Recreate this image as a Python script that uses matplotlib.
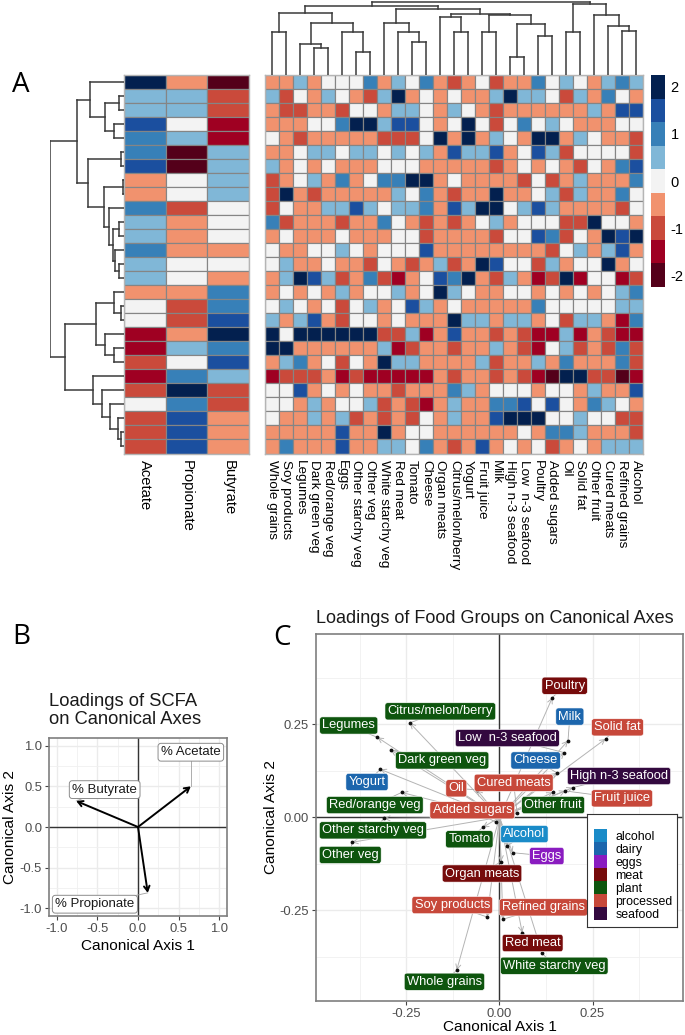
import matplotlib
matplotlib.use("Agg")
import matplotlib.pyplot as plt
from matplotlib.colors import ListedColormap
import numpy as np

plt.rcParams['font.family'] = ['Liberation Sans', 'DejaVu Sans']

W, H = 685, 1035

# heatmap levels: value on the colour bar is level / 2
level_colors = ['#54001a', '#9f0022', '#ca4a3b', '#f1926e', '#f3f3f3',
                '#80b7d7', '#3780b8', '#1b4f9f', '#03204f']
bar_levels = [4, 3, 2, 1, 0, -1, -2, -3, -4]
bar_ticks = [4, 2, 0, -2, -4]
bar_labels = ['2', '1', '0', '-1', '-2']

scfa_names = ['Acetate', 'Propionate', 'Butyrate']
scfa_levels = [
    [4, -1, -4], [1, 1, -2], [1, 1, -2], [3, 0, -3], [2, 1, -3], [2, -4, 1], [3, -4, 1],
    [-1, 0, 1], [-1, 0, 1], [2, -2, 0], [1, -1, 0], [1, -1, 0], [2, -1, -1], [1, 0, 0],
    [1, 0, -1], [-1, -1, 2], [0, -2, 2], [0, -2, 3], [-3, -1, 4], [-3, 1, 2], [-2, 0, 3],
    [-3, 2, 1], [-2, 4, -2], [0, 2, -2], [-2, 3, -1], [-2, 3, -1], [-2, 3, -1],
]

food_names = ['Whole grains', 'Soy products', 'Legumes', 'Dark green veg', 'Red/orange veg',
              'Eggs', 'Other starchy veg', 'Other veg', 'White starchy veg', 'Red meat',
              'Tomato', 'Cheese', 'Organ meats', 'Citrus/melon/berry', 'Yogurt', 'Fruit juice',
              'Milk', 'High n-3 seafood', 'Low  n-3 seafood', 'Poultry', 'Added sugars', 'Oil',
              'Solid fat', 'Other fruit', 'Cured meats', 'Refined grains', 'Alcohol']
food_levels = [
    [-1, -1, 1, -1, 0, 0, 0, 2, -1, 1, 0, 2, -1, -2, -1, 0, -2, -1, -1, 2, 0, 1, 0, -1, 1, 2, 1],
    [1, -2, 0, -1, 1, 0, -1, -2, 1, 4, -1, 0, -1, 0, -1, -1, 1, 4, 1, 1, 0, -2, 1, -1, 2, 0, -1],
    [-1, -2, -2, -1, -1, -2, 0, 0, -1, 1, 1, 0, -1, 1, 0, -1, -2, -1, -1, -1, -1, -1, -1, 1, -1, 3, 3],
    [-1, -1, -1, 0, 0, 2, 4, 4, 1, 3, 3, 0, -1, 0, 4, 0, -2, 0, 2, 0, 1, 0, -1, -1, -1, 0, 0],
    [0, -1, -2, -1, -1, -1, -1, -1, -2, -2, -2, 0, 4, -1, 4, -1, 1, 0, -1, 4, 4, -1, 1, 0, -1, -1, -2],
    [-1, -1, 0, 1, 1, 0, 1, 1, 0, 1, 0, 1, -1, 3, 1, 1, 3, -1, 0, 3, 1, -2, 0, 0, 0, 0, -2],
    [1, -1, 0, -1, 0, -1, -1, -1, 0, 0, 0, -1, -1, -1, -1, -1, -2, -1, 0, -1, 0, -1, -2, 0, -1, 2, 3],
    [-2, -1, 0, 1, -1, 2, -1, 0, 2, 2, 4, 4, -1, 0, -1, -1, -1, -1, -2, 0, -2, -1, 1, -1, -1, -1, 2],
    [-2, 4, -1, -2, -1, -1, -1, -1, -1, 1, 0, 2, -1, -2, -1, -1, 4, -1, -1, 0, 1, -2, 1, -1, -1, 2, 0],
    [-2, 0, -1, -1, 1, 1, 3, 1, 0, 1, 1, 2, -1, 3, 1, 4, 4, 0, 1, 3, 1, -1, -1, -1, -1, -2, 0],
    [2, -2, -1, -1, -1, -2, -1, -1, 2, 0, -1, -2, -1, -2, -1, 0, 1, -1, 0, 0, 0, -2, -2, 4, 0, 0, -1],
    [-1, 0, -1, -1, -1, 0, -1, -1, -1, 0, 0, -2, -1, -1, -1, -1, -2, 0, 0, 3, 2, -2, 0, -1, 4, 3, 4],
    [0, -1, -1, 0, 0, 1, 0, -1, 0, 0, 0, 3, -1, -1, -1, -1, -1, -1, -1, -1, -2, 0, 1, -1, 1, 3, -1],
    [0, 1, -1, -1, 0, -1, -1, -2, 0, -1, -2, -1, 1, -2, -1, 4, 3, 0, 0, -2, 1, -1, 0, 0, 4, -1, 0],
    [-1, 1, 4, 3, 1, -2, -1, 2, -2, -3, -1, 0, 3, 2, 4, -1, -2, 1, -1, -3, -2, 4, -3, 0, 0, -3, -2],
    [-1, 0, -1, 0, -1, 1, -1, 0, 0, 1, -1, 0, 4, 1, 0, -1, -1, 0, 0, -1, 0, -1, 0, -1, 0, 1, 2],
    [0, 1, 0, -1, 0, -2, 0, 1, -1, 0, 3, 1, -1, 0, -1, -1, -1, -1, -1, 2, 0, 0, 0, 0, 0, 1, 1],
    [1, -1, 1, 3, -1, -2, 0, 0, -1, 0, -1, -1, -1, 4, 1, 1, -1, 1, 1, -1, 0, -2, 1, 1, -1, -3, 2],
    [4, 0, 4, 4, 4, 4, 4, 4, -2, -2, 1, -3, -1, 3, -1, -1, -2, -1, -2, -3, -3, 1, -3, -1, -2, -3, -3],
    [4, 4, -1, -1, -1, -1, -1, -1, 1, -3, -2, -1, -1, -2, -1, -1, 1, -1, -2, -3, 0, 1, -2, -1, -2, 2, -2],
    [-1, 1, 2, -1, 0, -2, 0, -1, 4, 1, 1, -1, -1, -1, -1, 1, -2, -1, -1, 1, -1, 2, -1, -1, -1, 2, -2],
    [-3, -2, -2, -2, -1, -3, -2, -3, -3, -3, -3, -3, -1, -2, -1, -1, -2, -1, -2, -3, -4, 4, 4, -2, -2, -4, -3],
    [0, 0, 3, -1, 0, -1, 0, -1, -1, -2, -1, -1, -1, 2, 1, -1, 0, 0, 0, -1, 0, 0, -1, 1, -1, -1, 3],
    [0, 0, -1, 1, -1, 0, 0, 1, -2, -1, -2, -3, -1, 1, -1, -1, 2, 2, 3, 0, 3, 0, -1, 2, 1, 0, -1],
    [0, -1, -1, 1, -1, 1, -2, -1, -2, -1, -2, 0, -1, 1, -1, -1, 3, 4, 4, 4, 0, 0, 1, 0, 0, -2, -2],
    [-1, -1, -1, -1, -1, 3, -1, -1, 4, -1, 0, 0, -1, -1, -1, -1, -1, -1, 0, -1, 2, 2, 1, -1, -1, -1, -2],
    [-1, 2, -1, -1, -1, 3, -1, -1, 1, 1, 0, 2, -1, -2, -1, 3, -1, 0, -1, 0, -2, -1, 0, -1, 1, 1, 1],
]

# dendrograms as (merge height, left, right), an int is a leaf position
row_tree = (73.5,
            (46.5,
             (33.5, 0, (18.5, (4.5, 1, 2), (9.5, 3, 4))),
             (35.5, (2.5, 5, 6),
              (19.5, (1, 7, 8),
               (14.5, 9, (10.5, (4.5, 10, 11), (8.5, 12, (4.5, 13, 14))))))),
            (58.5,
             (27.5,
              (9.5, 15, (2.5, 16, 17)),
              (18.5, 18, (9.5, 19, 20))),
             (30.5, 21,
              (21.5, 22,
               (13.5, 23, (5.5, 24, (2.5, 25, 26)))))))
col_tree = (73,
            (69,
             (62,
              (43, 0, 1),
              (52,
               (31, 2, (27, 3, 4)),
               (43, 5, (23, 6, 7)))),
             (66,
              (52, 8, (43, 9, (33, 10, 11))),
              (61,
               (58, 12, (43, 13, 14)),
               (60,
                (43, 15, 16),
                (51, (18, 17, 18), (39, 19, 20)))))),
            (71,
             (43, 21, 22),
             (60, 23, (49, 24, (44, 25, 26)))))

# panel B
scfa_labels = ['% Acetate', '% Butyrate', '% Propionate']
scfa_x = [0.65, -0.76, 0.12]
scfa_y = [0.50, 0.32, -0.81]
scfa_label_x = [0.65, -0.41, -0.53]
scfa_label_y = [0.92, 0.46, -0.95]

# panel C
group_names = ['alcohol', 'dairy', 'eggs', 'meat', 'plant', 'processed', 'seafood']
group_colors = ['#1a8bc8', '#1c66ad', '#8a1cc0', '#760b0b', '#0e550e', '#c7483a', '#33093f']
loading_names = ['Poultry', 'Milk', 'Solid fat', 'Low  n-3 seafood', 'Cheese', 'Cured meats',
                 'High n-3 seafood', 'Fruit juice', 'Other fruit', 'Citrus/melon/berry', 'Legumes',
                 'Dark green veg', 'Yogurt', 'Oil', 'Red/orange veg', 'Added sugars',
                 'Other starchy veg', 'Tomato', 'Alcohol', 'Other veg', 'Eggs', 'Organ meats',
                 'Soy products', 'Refined grains', 'Red meat', 'White starchy veg', 'Whole grains']
loading_groups = ['meat', 'dairy', 'processed', 'seafood', 'dairy', 'processed',
                  'seafood', 'processed', 'plant', 'plant', 'plant',
                  'plant', 'dairy', 'processed', 'plant', 'processed',
                  'plant', 'plant', 'alcohol', 'plant', 'eggs', 'meat',
                  'processed', 'processed', 'meat', 'plant', 'plant']
loading_x = [.142, .184, .285, .174, .154, .047, .197, .177, .143, -.241, -.328,
             -.292, -.320, -.061, -.263, -.009, -.310, -.045, .021, -.396, .035, .004,
             -.033, .009, .061, .115, -.115]
loading_y = [.322, .206, .211, .174, .120, .012, .080, .071, .067, .254, .215,
             .181, .129, .074, .067, -.013, -.003, -.027, -.077, -.067, -.095, -.119,
             -.268, -.274, -.310, -.366, -.411]
label_x = [.175, .189, .317, .021, .097, .038, .321, .329, .144, -.159, -.405,
           -.154, -.356, -.116, -.335, -.073, -.340, -.081, .067, -.401, .127, -.047,
           -.127, .118, .089, .147, -.148]
label_y = [.354, .271, .242, .213, .153, .093, .111, .051, .033, .285, .247,
           .153, .095, .078, .033, .019, -.035, -.059, -.045, -.101, -.104, -.151,
           -.236, -.242, -.338, -.399, -.442]


def add_axes_px(fig, left, top, right, bottom):
    return fig.add_axes([left / W, 1 - bottom / H, (right - left) / W, (bottom - top) / H])


def tree_segments(node, segs):
    """Walk a merge tree, returns (position, height) of the node"""
    if isinstance(node, int):
        return node + 0.5, 0
    h, a, b = node
    pa, ha = tree_segments(a, segs)
    pb, hb = tree_segments(b, segs)
    for p, c in ((pa, ha), (pb, hb)):
        segs.append(([p, p], [c, h]))
    segs.append(([pa, pb], [h, h]))
    return (pa + pb) / 2, h


def draw_heat(ax, levels, names, size):
    cmap = ListedColormap(level_colors)
    arr = np.array(levels)
    ax.pcolormesh(arr, cmap=cmap, vmin=-4.5, vmax=4.5, edgecolors='#858585', linewidth=0.85,
                  antialiased=True)
    ax.invert_yaxis()
    ax.set_yticks([])
    ax.set_xticks(np.arange(arr.shape[1]) + 0.5)
    ax.set_xticklabels(names, rotation=-90, fontsize=size)
    ax.tick_params(axis='x', length=0, pad=5)
    for s in ax.spines.values():
        s.set_color('#b5b5b5')
        s.set_linewidth(1)


def style_panel(ax, lim, major, minor, labels):
    ax.set_xlim(-lim, lim)
    ax.set_ylim(-lim, lim)
    ax.set_xticks(major)
    ax.set_yticks(major)
    ax.set_xticklabels(labels)
    ax.set_yticklabels(labels)
    ax.set_xticks(minor, minor=True)
    ax.set_yticks(minor, minor=True)
    ax.grid(which='major', color='#ebebeb', lw=1.0)
    ax.grid(which='minor', color='#f0f0f0', lw=0.6)
    ax.set_axisbelow(True)
    ax.tick_params(which='minor', length=0)
    ax.tick_params(which='major', length=3, width=0.8, color='#444444', labelcolor='#4d4d4d',
                   labelsize=9.4, pad=2)
    for s in ax.spines.values():
        s.set_color('#7f7f7f')
        s.set_linewidth(1.2)
    ax.axhline(0, color='#333333', lw=1.0, zorder=1.5)
    ax.axvline(0, color='#333333', lw=1.0, zorder=1.5)


fig = plt.figure(figsize=(W / 100, H / 100), dpi=100)

# panel A
ax_scfa = add_axes_px(fig, 123.5, 75, 249.5, 453.5)
draw_heat(ax_scfa, scfa_levels, scfa_names, 10.6)
ax_food = add_axes_px(fig, 265, 75, 643, 453.5)
draw_heat(ax_food, food_levels, food_names, 9.7)

ax_rd = add_axes_px(fig, 49.5, 75, 123.5, 453.5)
segs = []
tree_segments(row_tree, segs)
for pos, hgt in segs:
    ax_rd.plot(hgt, pos, color='#3a3a3a', lw=1.1, solid_capstyle='projecting')
ax_rd.set_xlim(74, 0)
ax_rd.set_ylim(27, 0)
ax_rd.axis('off')

ax_cd = add_axes_px(fig, 265, 1, 643, 75)
segs = []
tree_segments(col_tree, segs)
for pos, hgt in segs:
    ax_cd.plot(pos, hgt, color='#3a3a3a', lw=1.1, solid_capstyle='projecting')
ax_cd.set_xlim(0, 27)
ax_cd.set_ylim(0, 74)
ax_cd.axis('off')

ax_bar = add_axes_px(fig, 651, 75, 665, 287)
ax_bar.pcolormesh(np.array(bar_levels)[:, None], cmap=ListedColormap(level_colors), vmin=-4.5, vmax=4.5)
ax_bar.invert_yaxis()
ax_bar.set_xticks([])
ax_bar.set_yticks([bar_levels.index(t) + 0.5 for t in bar_ticks])
ax_bar.set_yticklabels(bar_labels, fontsize=10.5)
ax_bar.yaxis.tick_right()
ax_bar.tick_params(axis='y', length=0, pad=4)
for s in ax_bar.spines.values():
    s.set_visible(False)

# panel letters
for letter, x, y in (('A', 21, 85), ('B', 21, 637), ('C', 282, 638)):
    fig.text(x / W, 1 - y / H, letter, fontsize=20, family='Open Sans', ha='center', va='center')

# panel B
ax_b = add_axes_px(fig, 49, 738, 227, 916)
style_panel(ax_b, 1.095, [-1, -0.5, 0, 0.5, 1], [-0.75, -0.25, 0.25, 0.75],
            ['-1.0', '-0.5', '0.0', '0.5', '1.0'])
for x, y, lx, ly, name in zip(scfa_x, scfa_y, scfa_label_x, scfa_label_y, scfa_labels):
    ax_b.plot([x, lx], [y, ly], color='#a0a0a0', lw=0.6, zorder=2)
    ax_b.annotate('', xy=(x, y), xytext=(0, 0),
                  arrowprops=dict(arrowstyle='->,head_length=0.35,head_width=0.2', color='black', lw=1.4,
                                  shrinkA=0, shrinkB=0), zorder=3)
    ax_b.text(lx, ly, name, fontsize=9.5, ha='center', va='center', zorder=4, color='#1a1a1a',
              bbox=dict(boxstyle='round,pad=0.22', fc='white', ec='#8c8c8c', lw=0.7))
ax_b.set_xlabel('Canonical Axis 1', fontsize=11.1, labelpad=3)
ax_b.set_ylabel('Canonical Axis 2', fontsize=11.1, labelpad=2)
ax_b.set_title('Loadings of SCFA\non Canonical Axes', fontsize=13.2, loc='left', pad=10, linespacing=1.05, color='#1a1a1a')

# panel C
ax_c = add_axes_px(fig, 316, 634, 683, 1000.7)
style_panel(ax_c, 0.493, [-0.25, 0, 0.25], [-0.375, -0.125, 0.125, 0.375],
            ['-0.25', '0.00', '0.25'])
group_color = dict(zip(group_names, group_colors))
for x, y, lx, ly, name, grp in zip(loading_x, loading_y, label_x, label_y, loading_names, loading_groups):
    ax_c.annotate('', xy=(x, y), xytext=(0, 0),
                  arrowprops=dict(arrowstyle='->,head_length=0.35,head_width=0.18', color='#b4b4b4', lw=0.7,
                                  shrinkA=0, shrinkB=0), zorder=2)
    ax_c.plot([x, lx], [y, ly], color='#a8a8a8', lw=0.6, zorder=2)
    ax_c.text(lx, ly, name, fontsize=9.3, color='white', ha='center', va='center', zorder=4,
              bbox=dict(boxstyle='round,pad=0.2', fc=group_color[grp], ec='white', lw=0.4))
ax_c.scatter(loading_x, loading_y, s=3, color='#111111', zorder=3)
ax_c.set_xlabel('Canonical Axis 1', fontsize=11.1, labelpad=0.5)
ax_c.set_ylabel('Canonical Axis 2', fontsize=11.1, labelpad=1)
ax_c.set_title('Loadings of Food Groups on Canonical Axes', fontsize=13, loc='left', pad=8, color='#1a1a1a')

# legend: a framed box with the colour keys as a one column mesh
ax_box = add_axes_px(fig, 587, 814, 677, 927)
ax_box.set_xticks([])
ax_box.set_yticks([])
for s in ax_box.spines.values():
    s.set_color('#333333')
    s.set_linewidth(0.8)
ax_key = add_axes_px(fig, 594, 829, 607, 920)
ax_key.pcolormesh(np.arange(len(group_names))[:, None], cmap=ListedColormap(group_colors))
ax_key.invert_yaxis()
ax_key.set_xticks([])
ax_key.set_yticks(np.arange(len(group_names)) + 0.5)
ax_key.set_yticklabels(group_names, fontsize=8.9)
ax_key.yaxis.tick_right()
ax_key.tick_params(axis='y', length=0, pad=6)
for s in ax_key.spines.values():
    s.set_visible(False)

fig.savefig('out.png', dpi=100)
